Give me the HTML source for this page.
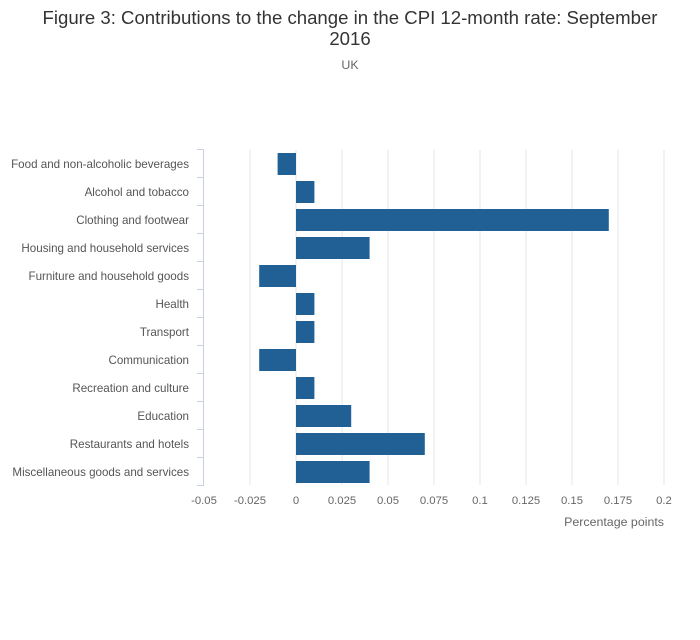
<!DOCTYPE html>
<html><head><meta charset="utf-8"><style>
body{margin:0;background:#fff;font-family:"Liberation Sans",sans-serif}
</style></head><body>
<svg width="700" height="635" xmlns="http://www.w3.org/2000/svg">
<text x="350" y="24" text-anchor="middle" font-size="18.6" fill="#333">Figure 3: Contributions to the change in the CPI 12-month rate: September</text>
<text x="350" y="45" text-anchor="middle" font-size="18.6" fill="#333">2016</text>
<text x="350" y="69" text-anchor="middle" font-size="12.4" fill="#666">UK</text>
<g id="grid"></g><g id="bars"></g><g id="axes"></g>
<text x="664" y="526" text-anchor="end" font-size="12.4" fill="#666">Percentage points</text>
</svg>
<script>
const categories=["Food and non-alcoholic beverages","Alcohol and tobacco","Clothing and footwear","Housing and household services","Furniture and household goods","Health","Transport","Communication","Recreation and culture","Education","Restaurants and hotels","Miscellaneous goods and services"];
const values=[-0.01,0.01,0.17,0.04,-0.02,0.01,0.01,-0.02,0.01,0.03,0.07,0.04];
const xTicks=[-0.05,-0.025,0,0.025,0.05,0.075,0.1,0.125,0.15,0.175,0.2];
const NS="http://www.w3.org/2000/svg";
const x0=204,x1=664,xmin=-0.05,xmax=0.2,plotTop=150,rowH=28;
const X=v=>x0+(v-xmin)/(xmax-xmin)*(x1-x0);
const Y=i=>plotTop+i*rowH;
function mk(t,a,p){const e=document.createElementNS(NS,t);for(const k in a)e.setAttribute(k,a[k]);p.appendChild(e);return e;}
const grid=document.getElementById('grid'),bars=document.getElementById('bars'),axes=document.getElementById('axes');
const bottom=Y(categories.length)-1;
xTicks.forEach(t=>{
  if(t>xmin){const g=mk('line',{x1:X(t),x2:X(t),y1:plotTop,y2:bottom,stroke:'#e4e4e4','stroke-width':1},grid);
  
  }
  const l=mk('text',{x:X(t),y:504,'text-anchor':'middle','font-size':11.3,fill:'#666'},axes);
  l.textContent=String(t);
  
  
});
const ax=mk('line',{x1:x0-0.5,x2:x0-0.5,y1:plotTop,y2:bottom,stroke:'#c8d0e0','stroke-width':1},axes);


for(let i=0;i<=categories.length;i++){
  const tk=mk('line',{x1:x0-7,x2:x0,y1:Y(i)-0.5,y2:Y(i)-0.5,stroke:'#c8d0e0','stroke-width':1},axes);
  
  
}
categories.forEach((c,i)=>{
  const v=values[i];
  const r=mk('rect',{x:Math.min(X(0),X(v)),y:Y(i)+3,width:Math.abs(X(v)-X(0)),height:22,fill:'#206095'},bars);
  
  
  const l=mk('text',{x:189,y:Y(i)+18,'text-anchor':'end','font-size':11.6,fill:'#555'},axes);
  l.textContent=c;
  
  
});
</script>
</body></html>
